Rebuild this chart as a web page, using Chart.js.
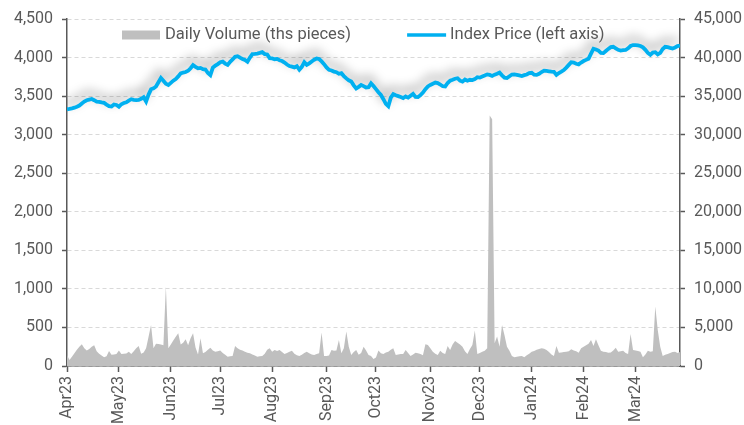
<!DOCTYPE html>
<html>
<head>
<meta charset="utf-8">
<script src="https://cdn.jsdelivr.net/npm/chart.js@4/dist/chart.umd.min.js"></script>
<style>
  html, body { margin: 0; padding: 0; background: #ffffff; }
  #wrap { width: 744px; height: 425px; }
</style>
</head>
<body>
<div id="wrap"><canvas id="chart" width="744" height="425"></canvas></div>
<script>
// month tick labels and the trading-day index where each month starts
const monthLabels = ['Apr23', 'May23', 'Jun23', 'Jul23', 'Aug23', 'Sep23', 'Oct23', 'Nov23', 'Dec23', 'Jan24', 'Feb24', 'Mar24'];
const monthStarts = [0, 21, 42, 62, 83, 105, 125, 147, 167, 188, 209, 230];

// Index price (left axis), one value per trading day
const priceValues = [
    3329, 3335, 3342, 3350, 3363, 3378, 3405, 3430, 3446, 3455,
    3463, 3447, 3428, 3425, 3418, 3412, 3390, 3370, 3366, 3392,
    3385, 3363, 3395, 3410, 3420, 3442, 3460, 3452, 3448, 3451,
    3465, 3485, 3430, 3520, 3588, 3600, 3625, 3680, 3735, 3700,
    3660, 3645, 3672, 3700, 3722, 3755, 3795, 3806, 3812, 3828,
    3862, 3902, 3880, 3860, 3866, 3850, 3845, 3800, 3772, 3870,
    3895, 3915, 3940, 3948, 3922, 3905, 3945, 3975, 4010, 4018,
    3998, 3982, 3968, 3945, 4000, 4045, 4048, 4052, 4060, 4070,
    4045, 4040, 3992, 3988, 3978, 3982, 3965, 3955, 3935, 3910,
    3890, 3882, 3872, 3888, 3842, 3880, 3940, 3905, 3925, 3950,
    3972, 3988, 3980, 3950, 3915, 3872, 3840, 3832, 3818, 3810,
    3790, 3797, 3760, 3730, 3705, 3690, 3640, 3600, 3620, 3645,
    3630, 3612, 3615, 3665, 3630, 3590, 3550, 3515, 3460, 3400,
    3370, 3480, 3525, 3510, 3500, 3488, 3475, 3495, 3480, 3505,
    3530, 3490, 3488, 3512, 3545, 3590, 3625, 3645, 3660, 3675,
    3668, 3650, 3628, 3625, 3670, 3700, 3712, 3725, 3732, 3700,
    3688, 3715, 3700, 3712, 3708, 3720, 3745, 3740, 3755, 3768,
    3782, 3775, 3762, 3778, 3790, 3805, 3770, 3740, 3735, 3758,
    3780, 3782, 3775, 3768, 3760, 3772, 3780, 3798, 3802, 3778,
    3775, 3790, 3812, 3830, 3826, 3822, 3818, 3815, 3775, 3800,
    3818, 3838, 3870, 3905, 3940, 3935, 3920, 3912, 3935, 3955,
    3970, 3985, 4050, 4115, 4105, 4090, 4060, 4058, 4085, 4112,
    4135, 4140, 4120, 4100, 4090, 4095, 4098, 4120, 4150, 4162,
    4160, 4158, 4150, 4132, 4100, 4060, 4035, 4065, 4070, 4040,
    4060, 4110, 4140, 4135, 4125, 4118, 4130, 4148, 4155,
];

// Daily volume in thousand pieces (right axis)
const volumeValues = [
    1430, 780, 1200, 1650, 2100, 2500, 2810, 2300, 2000, 2200,
    2500, 2700, 1900, 1600, 1350, 1150, 1250, 1950, 1450, 1500,
    1550, 2000, 1560, 1600, 1620, 1860, 1560, 1900, 2300, 2600,
    1600, 1750, 2300, 3800, 5330, 2300, 2900, 2850, 2800, 2700,
    10300, 2300, 2800, 3300, 3800, 4240, 2800, 3000, 3460, 2700,
    3600, 4240, 2400, 1500, 3590, 1650, 1800, 2100, 2380, 2000,
    1860, 1900, 2000, 1700, 1450, 1210, 1250, 1300, 2600, 2300,
    2100, 2000, 1850, 1730, 1650, 1500, 1350, 1210, 1250, 1300,
    1600, 2100, 2300, 1860, 2080, 1950, 2080, 1800, 1560, 1700,
    1850, 1990, 1600, 1400, 1300, 1450, 1700, 1860, 1650, 1500,
    1430, 1550, 1650, 4330, 1300, 1300, 1350, 2080, 1990, 2000,
    3380, 1650, 2300, 4460, 2500, 1430, 1800, 2080, 1450, 1700,
    2510, 2000, 1430, 1300, 900, 1100, 2000, 1650, 1560, 1750,
    1860, 2100, 2300, 1430, 1500, 1550, 1560, 2080, 1700, 1300,
    1500, 1730, 1650, 1560, 1400, 2810, 2730, 2300, 1860, 1600,
    1430, 1990, 1700, 1560, 2600, 2080, 2800, 3250, 3000, 2800,
    2510, 1900, 1560, 2200, 2730, 4590, 1560, 1700, 1850, 1990,
    2300, 32500, 32000, 2940, 3810, 2510, 5330, 4000, 2500, 1990,
    1300, 1130, 1200, 1250, 1300, 1130, 1400, 1600, 1860, 1950,
    2100, 2200, 2300, 2250, 2080, 1800, 1500, 1300, 2600, 1730,
    1750, 1800, 1860, 1900, 2160, 2000, 1900, 1730, 2300, 2500,
    2700, 2900, 3380, 2600, 3460, 2700, 1990, 1850, 1800, 1730,
    1750, 2000, 2380, 1860, 1900, 1990, 1700, 1560, 4160, 2080,
    2000, 1950, 1860, 1130, 1500, 1990, 1860, 1900, 7710, 4680,
    2500, 1300, 1450, 1560, 1700, 1800, 1860, 1700, 1800,
];

const TEXT = '#595959';
const AXIS = '#595959';
const GRID = '#d9d9d9';
const BLUE = '#00b0f0';
const VOL = '#bfbfbf';
const FONT = { family: 'Roboto', size: 16 };

// soft grey shadow behind the price line
const lineShadow = {
    id: 'lineShadow',
    beforeDatasetDraw(chart, args) {
        if (args.index !== 1) return;
        const ctx = chart.ctx;
        ctx.save();
        ctx.shadowColor = 'rgba(0,0,0,0.4)';
        ctx.shadowBlur = 11;
        ctx.shadowOffsetX = -2;
        ctx.shadowOffsetY = -6;
    },
    afterDatasetDraw(chart, args) {
        if (args.index !== 1) return;
        chart.ctx.restore();
    },
};

// legend sitting inside the top of the plot, one row
const insideLegend = {
    id: 'insideLegend',
    afterDatasetsDraw(chart) {
        const ctx = chart.ctx;
        const area = chart.chartArea;
        const y = area.top + 16;
        let x = area.left + 55;

        ctx.save();
        ctx.font = `16.5px ${FONT.family}`;
        ctx.textBaseline = 'middle';

        chart.data.datasets.forEach((ds, i) => {
            if (i === 0) {
                ctx.fillStyle = VOL;
                ctx.fillRect(x, y - 4.5, 38, 9);
            } else {
                ctx.strokeStyle = ds.borderColor;
                ctx.lineWidth = 3.5;
                ctx.beginPath();
                ctx.moveTo(x, y);
                ctx.lineTo(x + 39, y);
                ctx.stroke();
            }
            ctx.fillStyle = TEXT;
            ctx.fillText(ds.label, x + 43, y);
            x += 43 + ctx.measureText(ds.label).width + 56;
        });
        ctx.restore();
    },
};

const toPoints = (values) => values.map((v, i) => ({ x: i, y: v }));

new Chart(document.getElementById('chart'), {
    type: 'line',
    data: {
        datasets: [
            {
                label: 'Daily Volume (ths pieces)',
                data: toPoints(volumeValues),
                yAxisID: 'y1',
                backgroundColor: VOL,
                borderColor: VOL,
                borderWidth: 0,
                fill: 'origin',
                pointRadius: 0,
                tension: 0,
                order: 1,
            },
            {
                label: 'Index Price (left axis)',
                data: toPoints(priceValues),
                yAxisID: 'y',
                borderColor: BLUE,
                backgroundColor: BLUE,
                borderWidth: 3.8,
                fill: false,
                pointRadius: 0,
                tension: 0,
                order: 0,
            },
        ],
    },
    options: {
        responsive: false,
        animation: false,
        devicePixelRatio: 1,
        layout: { padding: { top: 19, left: 0, right: 0, bottom: 0 } },
        plugins: {
            tooltip: { enabled: false },
            legend: { display: false },
        },
        scales: {
            x: {
                type: 'linear',
                min: 0,
                max: priceValues.length - 1,
                afterBuildTicks: (axis) => {
                    axis.ticks = monthStarts.map((v) => ({ value: v }));
                },
                afterFit: (axis) => { axis.height = 59; },
                ticks: {
                    autoSkip: false,
                    maxRotation: 90,
                    minRotation: 90,
                    padding: 4,
                    color: TEXT,
                    font: FONT,
                    callback: (value) => monthLabels[monthStarts.indexOf(value)],
                },
                grid: {
                    drawOnChartArea: false,
                    drawTicks: true,
                    tickLength: 6,
                    tickColor: AXIS,
                    tickWidth: 1.5,
                },
                border: { color: AXIS, width: 1.5 },
            },
            y: {
                position: 'left',
                min: 0,
                max: 4500,
                afterFit: (axis) => { axis.width = 67; },
                ticks: { stepSize: 500, color: TEXT, font: FONT, padding: 9 },
                grid: {
                    color: GRID,
                    lineWidth: 1,
                    tickLength: 5,
                    tickColor: AXIS,
                    tickWidth: 1.5,
                },
                border: { color: AXIS, width: 1.5, dash: [4, 3] },
            },
            y1: {
                position: 'right',
                min: 0,
                max: 45000,
                afterFit: (axis) => { axis.width = 64; },
                ticks: { stepSize: 5000, color: TEXT, font: FONT, padding: 9 },
                grid: {
                    drawOnChartArea: false,
                    tickLength: 5,
                    tickColor: AXIS,
                    tickWidth: 1.5,
                },
                border: { color: AXIS, width: 1.5 },
            },
        },
    },
    plugins: [lineShadow, insideLegend],
});
</script>
</body>
</html>
